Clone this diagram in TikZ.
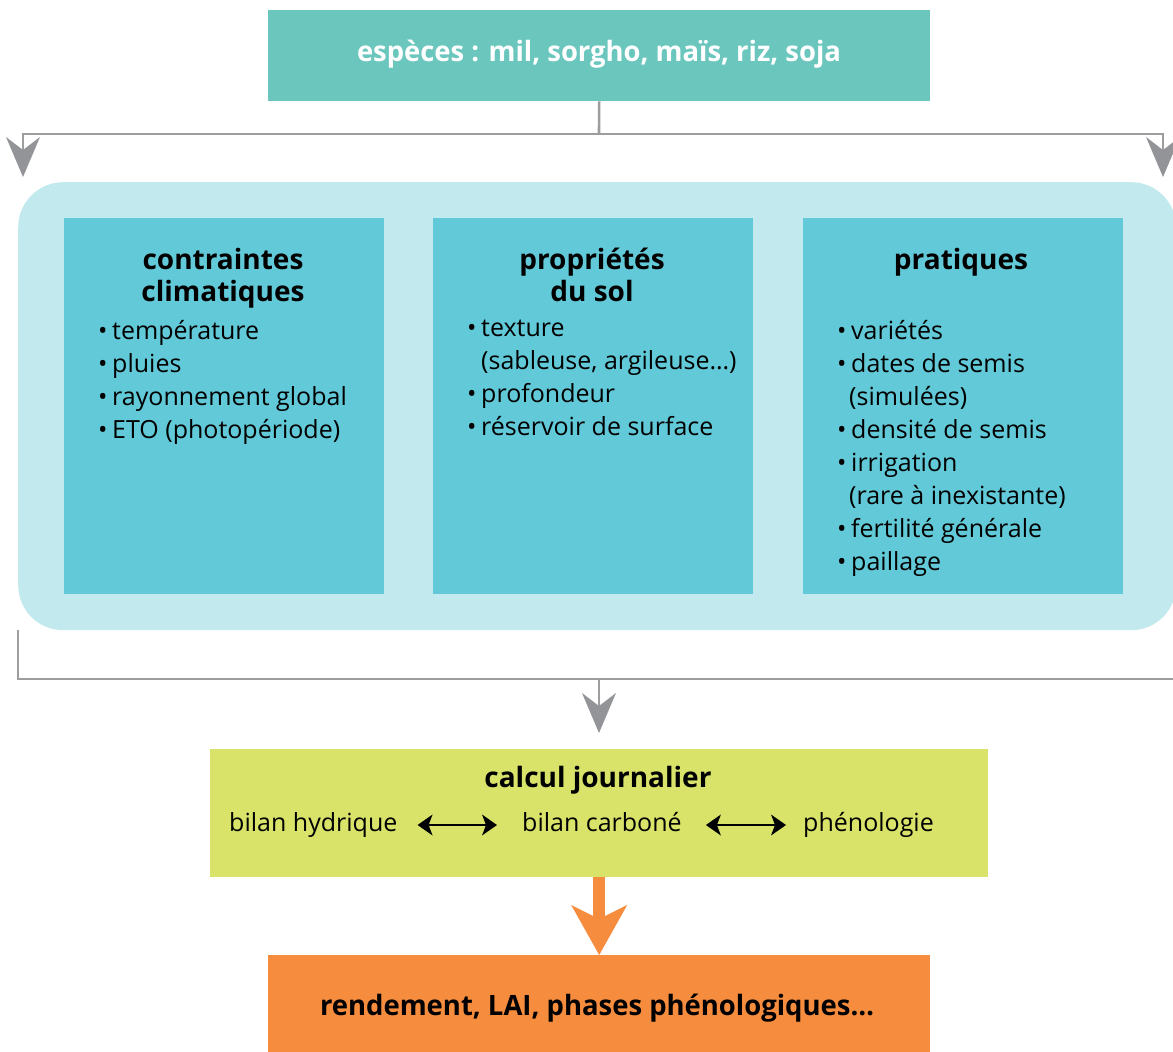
\documentclass[tikz,border=0pt]{standalone}
\usepackage{fontspec}
\setmainfont{Open Sans}
\usetikzlibrary{arrows.meta}
\definecolor{cTop}{HTML}{6BC7BE}
\definecolor{cPale}{HTML}{C2E9EE}
\definecolor{cInner}{HTML}{62C9D8}
\definecolor{cGreen}{HTML}{D9E36A}
\definecolor{cOrange}{HTML}{F68C3E}
\definecolor{cLine}{HTML}{9D9D9F}
\definecolor{cHead}{HTML}{929497}
\newcommand{\bodyfont}{\fontsize{25}{33}\selectfont}
\newcommand{\titfont}{\fontsize{28}{32}\selectfont\bfseries}
\newcommand{\bul}{\makebox[14pt][l]{\raisebox{0pt}{•}}}
\newcommand{\ind}{\hspace*{14pt}}
\tikzset{
  boxn/.style={inner sep=0pt, anchor=north west},
  inner/.style={boxn, fill=cInner, minimum width=320pt, minimum height=376pt},
  title/.style={inner sep=0pt, align=center, font=\titfont, anchor=north},
  items/.style={inner sep=0pt, align=left, font=\bodyfont, anchor=north west},
  gline/.style={draw=cLine, line width=2.6pt},
  garrow/.style={gline, -{Stealth[length=40pt,width=34pt,inset=13pt,line width=0pt,color=cHead]}},
  oarrow/.style={draw=cOrange, line width=12pt, -{Stealth[length=50pt,width=56pt,inset=14pt,line width=0pt]}},
  darrow/.style={draw=black, line width=2.2pt, {Stealth[length=15pt,width=21pt,inset=4pt,line width=0pt]}-{Stealth[length=15pt,width=21pt,inset=4pt,line width=0pt]}},
  lbl/.style={inner sep=0pt, font=\bodyfont, text height=18pt, text depth=6pt}
}
\begin{document}
\begin{tikzpicture}[x=1pt,y=-1pt]
\useasboundingbox (0,0) rectangle (1173,1052);
\clip (0,0) rectangle (1173,1052);

% top box
\node[boxn, fill=cTop, minimum width=662pt, minimum height=91pt] (top) at (268,10) {};
\node[inner sep=0pt, text=white, font=\fontsize{28}{32}\selectfont\bfseries] (toptxt) at (599,54)
  {\resizebox{484pt}{\height}{espèces : mil, sorgho, maïs, riz, soja}};

% panel
\node[boxn, fill=cPale, rounded corners=45pt, minimum width=1158pt, minimum height=448pt] (panel) at (18,182) {};
\node[inner] (b1) at (64,218) {};
\node[inner] (b2) at (433,218) {};
\node[inner] (b3) at (803,218) {};

\node[title] (t1) at (223,248) {contraintes\\climatiques};
\node[title] (t2) at (592,248) {propriétés\\du sol};
\node[title] (t3) at (961,248) {pratiques};

\node[items] (i1) at (98,320) {\bul température\\\bul pluies\\\bul rayonnement global\\\bul ETO (photopériode)};
\node[items] (i2) at (467,320) {\bul texture\\\ind(sableuse, argileuse\ldots)\\\bul profondeur\\\bul réservoir de surface};
\node[items] (i3) at (837,320) {\bul variétés\\\bul dates de semis\\\hspace*{12pt}(simulées)\\\bul densité de semis\\\bul irrigation\\\hspace*{12pt}(rare à inexistante)\\\bul fertilité générale\\\bul paillage};

% connectors from top
\coordinate (aL) at (23,177);
\coordinate (aR) at (1163,177);
\coordinate (split) at (599,134);
\draw[gline] (top.south) -- (split);
\draw[garrow] (split) -| (aL);
\draw[garrow] (split) -| (aR);

% bottom bracket
\coordinate (busL) at (18,679);
\coordinate (busR) at (1180,679);
\coordinate (bus) at (599,679);
\coordinate (aM) at (599,733);
\draw[gline] (panel.south west) -- (busL) -- (busR);
\draw[garrow] (bus) -- (aM);

% daily computation
\node[boxn, fill=cGreen, minimum width=778pt, minimum height=128pt] (calc) at (210,749) {};
\node[inner sep=0pt, font=\titfont] (ctitle) at (598,780) {calcul journalier};
\node[lbl, anchor=west] (bh) at (229,825) {bilan hydrique};
\node[lbl, anchor=west] (bc) at (522,825) {bilan carboné};
\node[lbl, anchor=west] (ph) at (803,825) {phénologie};
\draw[darrow] ([xshift=20pt]bh.east) -- ([xshift=-25pt]bc.west);
\draw[darrow] ([xshift=24pt]bc.east) -- ([xshift=-17pt]ph.west);

% result
\node[boxn, fill=cOrange, minimum width=662pt, minimum height=100pt] (res) at (268,955) {};
\node[inner sep=0pt, font=\fontsize{28}{32}\selectfont\bfseries] (restxt) at (597,1008)
  {\resizebox{554pt}{\height}{rendement, LAI, phases phénologiques\ldots}};
\draw[oarrow] (calc.south) -- (res.north);
\end{tikzpicture}
\end{document}
